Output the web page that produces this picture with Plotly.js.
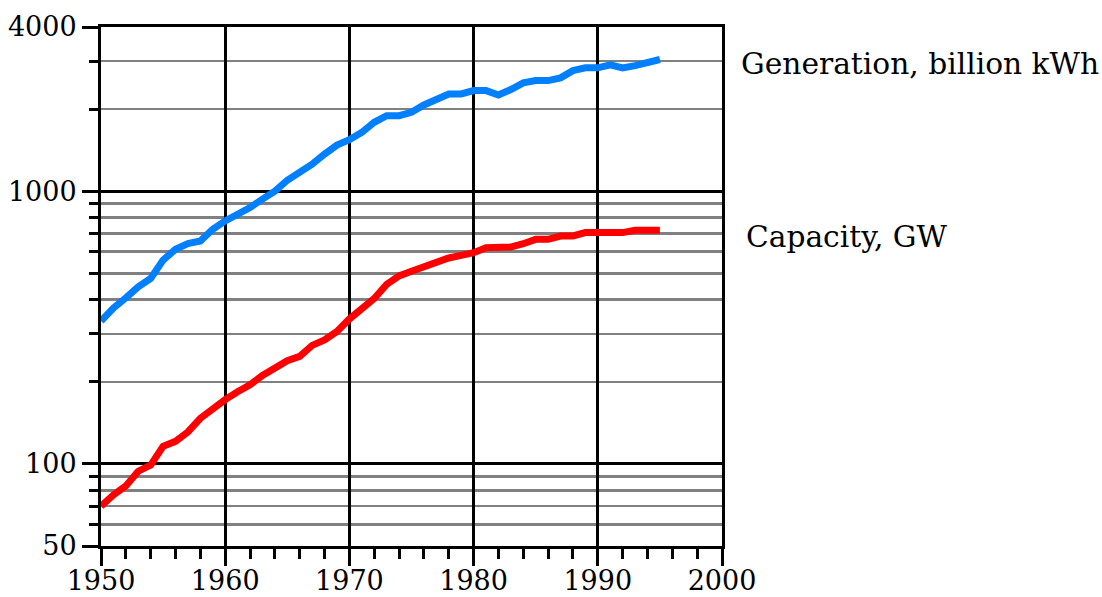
<!DOCTYPE html>
<html>
<head>
<meta charset="utf-8">
<script src="https://cdn.plot.ly/plotly-3.0.1.min.js"></script>
<style>html,body{margin:0;padding:0;background:#fff;}#chart{width:1102px;height:597px;}</style>
</head>
<body>
<div id="chart"></div>
<script>
const years = [1950,1951,1952,1953,1954,1955,1956,1957,1958,1959,1960,1961,1962,1963,1964,1965,1966,1967,1968,1969,1970,1971,1972,1973,1974,1975,1976,1977,1978,1979,1980,1981,1982,1983,1984,1985,1986,1987,1988,1989,1990,1991,1992,1993,1994,1995];
const generation = [334,373,406,446,479,559,612,642,657,725,778,822,871,935,1000,1097,1165,1256,1368,1476,1545,1643,1789,1892,1892,1947,2071,2166,2273,2273,2338,2338,2254,2358,2495,2544,2544,2603,2768,2833,2833,2905,2833,2888,2954,3040];
const capacity = [70,77,83,94,99,116,121,131,147,160,172,184,195,211,225,239,248,272,285,306,340,371,404,455,489,509,530,547,569,582,595,620,624,624,642,666,666,685,685,705,705,705,705,719,719,719];
const seriesLabels = ["Generation, billion kWh", "Capacity, GW"];
const yTickVals = [50,100,1000,4000];
const yMinorVals = [60,70,80,90,200,300,400,500,600,700,800,900,2000,3000];
const xTickVals = [1950,1960,1970,1980,1990,2000];

const font = {family: "DejaVu Serif, serif", size: 27, color: "#000"};
const labelFont = {family: "DejaVu Serif, serif", size: 29.7, color: "#000"};

const traces = [
  {x: years, y: generation, mode: "lines", line: {color: "#0080FF", width: 7}, showlegend: false, hoverinfo: "skip"},
  {x: years, y: capacity, mode: "lines", line: {color: "#FF0000", width: 7}, showlegend: false, hoverinfo: "skip"}
];

const layout = {
  width: 1102, height: 597,
  margin: {l: 101, r: 380, t: 27, b: 51},
  paper_bgcolor: "#fff", plot_bgcolor: "#fff",
  font: font,
  xaxis: {
    range: [1950, 2000], tickmode: "array", tickvals: xTickVals,
    ticks: "outside", ticklen: 17, tickwidth: 3, tickcolor: "#000",
    ticklabelstandoff: -8,
    showgrid: true, gridcolor: "#000", gridwidth: 3,
    showline: true, linecolor: "#000", linewidth: 3, mirror: true,
    zeroline: false, tickfont: font,
    minor: {tickmode: "linear", tick0: 1950, dtick: 2, ticks: "outside", ticklen: 10, tickwidth: 3, tickcolor: "#000", showgrid: false}
  },
  yaxis: {
    type: "log", range: [Math.log10(50), Math.log10(4000)],
    tickmode: "array", tickvals: yTickVals, ticktext: yTickVals.map(String),
    ticks: "outside", ticklen: 16, tickwidth: 3, tickcolor: "#000",
    showgrid: true, gridcolor: "#000", gridwidth: 3,
    showline: true, linecolor: "#000", linewidth: 3, mirror: true,
    zeroline: false, tickfont: font,
    minor: {tickmode: "array", tickvals: yMinorVals, ticks: "outside", ticklen: 9, tickwidth: 3, tickcolor: "#000", showgrid: true, gridcolor: "#808080", gridwidth: 2.5}
  },
  annotations: [
    {text: seriesLabels[0], xref: "paper", yref: "paper", x: 1.027, y: (Math.log10(2930) - Math.log10(50)) / (Math.log10(4000) - Math.log10(50)), xanchor: "left", yanchor: "middle", showarrow: false, font: labelFont},
    {text: seriesLabels[1], xref: "paper", yref: "paper", x: 1.035, y: (Math.log10(684) - Math.log10(50)) / (Math.log10(4000) - Math.log10(50)), xanchor: "left", yanchor: "middle", showarrow: false, font: labelFont}
  ]
};

Plotly.newPlot("chart", traces, layout, {staticPlot: true, displayModeBar: false});
</script>
</body>
</html>
